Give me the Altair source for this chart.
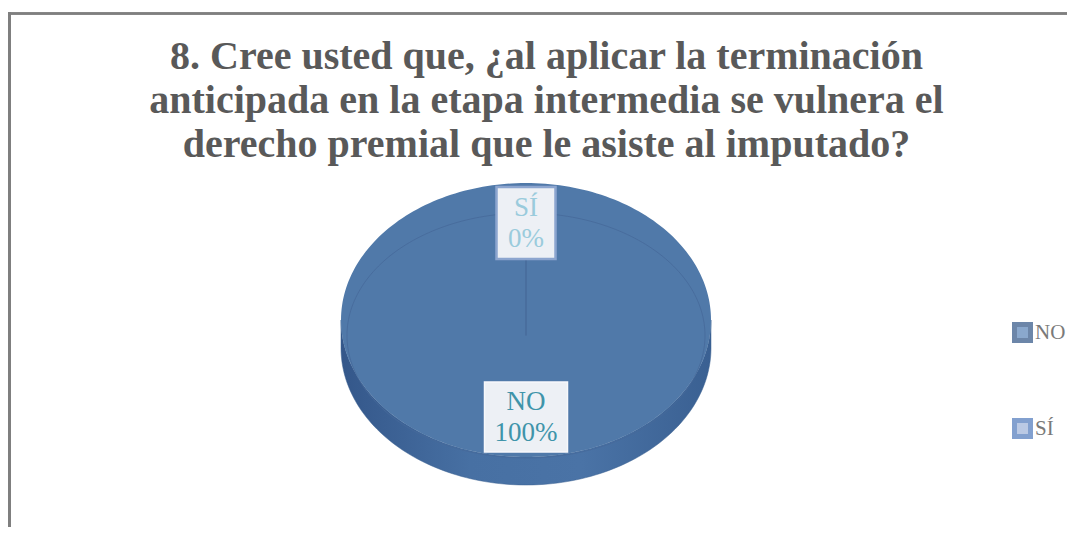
import altair as alt
import numpy as np
import pandas as pd

# ---- data ----
categories = ["NO", "SÍ"]
values = [100, 0]
title_lines = [
    "8. Cree usted que, ¿al aplicar la terminación",
    "anticipada en la etapa intermedia se vulnera el",
    "derecho premial que le asiste al imputado?",
]

# ---- pie geometry (3D-look ellipse) derived from the values ----
AX, BY, DY = 185 / 179, 137 / 122.5, 15.5 / 122.5   # bevel rim vs. face
DEPTH = 28 / 122.5                                   # wall thickness
LABEL_R = 0.708
N = 240

vals = np.array(values, dtype=float)
frac = vals / vals.sum()
ends = np.cumsum(frac) * 2 * np.pi
starts = ends - frac * 2 * np.pi

face_rows, rim_rows, wall_rows, radial_rows, label_rows = [], [], [], [], []
for cat, v, f, t0, t1 in zip(categories, values, frac, starts, ends):
    n = max(2, int(N * f) + 1)
    th = np.linspace(t0, t1, n)
    pts = [(0.0, DY)] + [(AX * np.sin(t), BY * np.cos(t) + DY) for t in th]
    for k, (x, y) in enumerate(pts):
        face_rows.append({"cat": cat, "x": x, "y": y, "o": k})
    for k, t in enumerate(th):
        rim_rows.append({"cat": cat, "x": np.sin(t), "y": np.cos(t), "o": k})
    radial_rows += [{"cat": cat, "x": 0.0, "y": 0.0, "o": 0},
                    {"cat": cat, "x": np.sin(t0), "y": np.cos(t0), "o": 1}]
    a, b = max(t0, np.pi / 2), min(t1, 3 * np.pi / 2)
    if b > a:
        tw = np.linspace(a, b, max(2, int(N * (b - a) / (2 * np.pi)) + 1))
        top = [(AX * np.sin(t), BY * np.cos(t) + DY) for t in tw]
        bot = [(x, y - DEPTH) for x, y in reversed(top)]
        for k, (x, y) in enumerate(top + bot):
            wall_rows.append({"cat": cat, "x": x, "y": y, "o": k})
    mid = (t0 + t1) / 2
    label_rows.append({
        "cat": cat,
        "x": AX * LABEL_R * np.sin(mid),
        "y": DY + BY * LABEL_R * np.cos(mid),
        "label": f"{cat}\n{v / vals.sum() * 100:.0f}%",
    })

face = pd.DataFrame(face_rows)
rim = pd.DataFrame(rim_rows)
wall = pd.DataFrame(wall_rows)
radial = pd.DataFrame(radial_rows)
labels = pd.DataFrame(label_rows)
legend_df = pd.DataFrame({"cat": categories})

W, H, TOP = 1059, 349, 170
xs = alt.Scale(domain=[-1, 1], range=[339, 697])
ys = alt.Scale(domain=[-1, 1], range=[280, 35])
X = lambda: alt.X("x:Q", scale=xs, axis=None)
Y = lambda: alt.Y("y:Q", scale=ys, axis=None)

wall_grad = alt.Gradient(
    gradient="linear", x1=0, x2=1, y1=0, y2=0,
    stops=[alt.GradientStop(color="#34578A", offset=0),
           alt.GradientStop(color="#4770A3", offset=0.35),
           alt.GradientStop(color="#4A73A6", offset=0.65),
           alt.GradientStop(color="#3A6092", offset=1)],
)

wall_layer = alt.Chart(wall).mark_line(
    interpolate="linear-closed", fill=wall_grad, stroke="#3B6090", strokeWidth=0.5
).encode(X(), Y(), order="o:Q", detail="cat:N")

face_layer = alt.Chart(face).mark_line(
    interpolate="linear-closed", strokeWidth=0
).encode(
    X(), Y(), order="o:Q", detail="cat:N",
    fill=alt.Fill("cat:N", scale=alt.Scale(domain=categories, range=["#5079A9", "#4E78BC"]), legend=None),
)

rim_layer = alt.Chart(rim).mark_line(stroke="#46699A", strokeWidth=1, opacity=0.8).encode(
    X(), Y(), order="o:Q", detail="cat:N")

radial_layer = alt.Chart(radial).mark_line(stroke="#46699A", strokeWidth=1, opacity=0.8).encode(
    X(), Y(), order="o:Q", detail="cat:N")

box_no = alt.Chart(labels).transform_filter(alt.datum.cat == "NO").mark_rect(
    fill="#EDF0F5", stroke="#F7F8FB", strokeWidth=1.5,
    xOffset=-41.5, x2Offset=41.5, yOffset=-35, y2Offset=35,
).encode(X(), x2="x:Q", y=Y(), y2="y:Q")

box_si = alt.Chart(labels).transform_filter(alt.datum.cat == "SÍ").mark_rect(
    fill="#EDF0F5", stroke="#8CA5CF", strokeWidth=2.5,
    xOffset=-29.5, x2Offset=29.5, yOffset=-36, y2Offset=36,
).encode(X(), x2="x:Q", y=Y(), y2="y:Q")

text_layer = alt.Chart(labels).mark_text(
    font="Liberation Serif", fontSize=27, lineBreak="\n", lineHeight=31,
    align="center", baseline="middle", dy=-15,
).encode(
    X(), Y(), text="label:N",
    color=alt.Color("cat:N", scale=alt.Scale(domain=categories, range=["#3F94AA", "#9ACBDC"]), legend=None),
)

legend_layer = alt.Chart(legend_df).transform_filter("false").mark_square(size=256).encode(
    X(), Y(),
    fill=alt.Fill("cat:N", scale=alt.Scale(domain=categories, range=["#5A84B8", "#9DB3DA"]),
                  legend=alt.Legend(title=None)),
    stroke=alt.Stroke("cat:N", scale=alt.Scale(domain=categories, range=["#2E5486", "#4E78BC"]),
                      legend=alt.Legend(title=None)),
)

top_border = alt.Chart(legend_df).mark_rule(color="#7F7F7F", strokeWidth=2.5).encode(
    x=alt.value(0), x2=alt.value(W), y=alt.value(-TOP + 5.5))
left_border = alt.Chart(legend_df).mark_rule(color="#7F7F7F", strokeWidth=3).encode(
    x=alt.value(1.5), y=alt.value(-TOP + 4.5), y2=alt.value(H))

chart = alt.layer(
    wall_layer, face_layer, rim_layer, radial_layer, box_no, box_si, text_layer,
    legend_layer, top_border, left_border,
).resolve_scale(fill="independent", stroke="independent").properties(
    width=W, height=H,
    autosize=alt.AutoSizeParams(type="none"),
    padding={"left": 0, "right": 0, "top": TOP, "bottom": 0},
    title=alt.TitleParams(
        text=title_lines, font="Liberation Serif", fontSize=40, fontWeight="bold",
        color="#595959", lineHeight=44, anchor="middle", dx=9, dy=168, offset=14,
    ),
).configure_view(stroke=None).configure_legend(
    orient="none", legendX=1004, legendY=144, symbolType="square", symbolSize=256,
    symbolStrokeWidth=5, labelFont="Liberation Serif", labelFontSize=21,
    labelColor="#7A7A7A", labelOffset=2, rowPadding=59, padding=0,
)

chart.save("out.html", embed_options={"renderer": "svg", "actions": False})
